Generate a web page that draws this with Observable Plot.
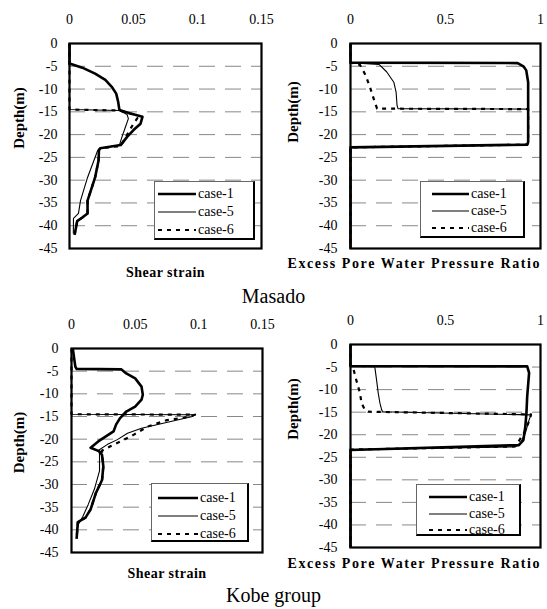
<!DOCTYPE html>
<html><head><meta charset="utf-8">
<script src="https://cdn.jsdelivr.net/npm/d3@7"></script>
<script src="https://cdn.jsdelivr.net/npm/@observablehq/plot@0.6"></script>
<style>
body{margin:0;background:#fff;}
#root{position:relative;width:547px;height:609px;overflow:hidden;font-family:"Liberation Serif",serif;color:#000;}
.panel{position:absolute;}
.title{position:absolute;font-size:20px;width:547px;text-align:center;left:0;}
.legend{position:absolute;background:#fff;border-left:1px solid #666;border-top:1px solid #666;border-right:2px solid #000;border-bottom:2px solid #000;box-sizing:border-box;}
.legend svg{position:absolute;left:0;top:0;overflow:visible;}
</style></head>
<body><div id="root"></div>
<script>
// ---- data: [depth (m), value] ----
const depthTicks = [0,-5,-10,-15,-20,-25,-30,-35,-40,-45];
const gridDepths = [-5,-10,-15,-20,-25,-30,-35,-40];
const strainTicks = [0,0.05,0.1,0.15];
const epwpTicks = [0,0.5,1];
const caseNames = ["case-1","case-5","case-6"];
const panelTitles = ["Masado","Kobe group"];
const xLabels = ["Shear strain","Excess Pore Water Pressure Ratio"];

const masadoStrainCase1 = [[0,0],[-4.4,0],[-5.3,0.010],[-6.6,0.020],[-8.0,0.028],[-9.5,0.033],[-11,0.0365],[-12.8,0.038],[-14.6,0.039],[-15.3,0.047],[-16.1,0.057],[-17.6,0.0555],[-19,0.050],[-20.5,0.045],[-22.3,0.040],[-23.0,0.024],[-23.4,0.023],[-25.7,0.0227],[-29.4,0.020],[-34.5,0.0141],[-37.3,0.0141],[-38.2,0.010],[-39,0.006],[-42,0.004]];
const masadoStrainCase5 = [[0,0],[-14.5,0],[-14.7,0.039],[-15.6,0.045],[-16.5,0.046],[-18.5,0.0435],[-20.5,0.041],[-22.3,0.039],[-23.0,0.024],[-23.5,0.022],[-29.4,0.0141],[-34.5,0.0086],[-37.3,0.007],[-38.4,0.0031],[-41.7,0.003]];
const masadoStrainCase6 = [[0,0],[-14.5,0],[-14.7,0.039],[-15.5,0.049],[-16.4,0.053],[-17.6,0.050],[-19.5,0.046],[-21.5,0.042],[-22.5,0.040],[-23.0,0.024],[-23.4,0.023],[-25.7,0.0227],[-29.4,0.020],[-34.5,0.0141],[-37.3,0.0141],[-38.2,0.010],[-39,0.006],[-42,0.004]];

const masadoEpwpCase1 = [[0,0],[-4.2,0],[-4.3,0.88],[-5.0,0.91],[-5.9,0.925],[-8.5,0.935],[-14.3,0.935],[-21.7,0.935],[-22.2,0.93],[-22.8,0],[-45,0]];
const masadoEpwpCase5 = [[0,0],[-4.2,0],[-4.6,0.15],[-6.2,0.19],[-8.5,0.228],[-10.7,0.24],[-13.6,0.245],[-14.3,0.25],[-14.4,0.935],[-21.7,0.935],[-22.2,0.93],[-22.8,0],[-45,0]];
const masadoEpwpCase6 = [[0,0],[-4.2,0],[-4.7,0.05],[-7,0.08],[-9.9,0.105],[-12.9,0.128],[-14.3,0.14],[-14.4,0.935],[-21.7,0.935],[-22.2,0.93],[-22.8,0],[-45,0]];

const kobeStrainCase1 = [[0,0.001],[-4,0.003],[-4.5,0.004],[-4.6,0.039],[-5.5,0.043],[-6.6,0.050],[-8.4,0.055],[-10.2,0.056],[-11.3,0.055],[-12.8,0.050],[-13.9,0.043],[-15.4,0.038],[-16.8,0.035],[-18.3,0.033],[-19.4,0.027],[-20.5,0.021],[-21.9,0.015],[-22.7,0.022],[-23.5,0.024],[-26,0.025],[-29,0.024],[-32,0.019],[-35.5,0.015],[-37.3,0.011],[-38.3,0.005],[-42,0.004]];
const kobeStrainCase5 = [[0,0],[-14.5,0],[-14.6,0.097],[-15.0,0.095],[-16.5,0.072],[-17.6,0.055],[-18.7,0.044],[-20.1,0.036],[-21.2,0.028],[-22.5,0.021],[-23.2,0.022],[-27,0.022],[-31,0.018],[-34.5,0.013],[-37,0.009],[-39,0.005],[-41.5,0.004]];
const kobeStrainCase6 = [[0,0],[-14.5,0],[-14.6,0.097],[-15.3,0.088],[-15.8,0.075],[-17.2,0.060],[-19,0.049],[-20.3,0.040],[-21.5,0.031],[-22.5,0.024],[-23.5,0.024],[-26,0.025],[-29,0.024],[-32,0.019],[-35.5,0.015],[-37.3,0.011],[-38.3,0.005],[-42,0.004]];

const kobeEpwpCase1 = [[0,0],[-4.8,0],[-4.85,0.93],[-6.3,0.94],[-11.5,0.93],[-15.2,0.926],[-18.2,0.92],[-21.2,0.91],[-22.3,0.886],[-23.4,0],[-45,0]];
const kobeEpwpCase5 = [[0,0],[-4.8,0],[-5.0,0.128],[-7.8,0.137],[-10.8,0.146],[-13,0.155],[-14.5,0.164],[-14.9,0.17],[-15.6,0.95],[-16.7,0.94],[-19.7,0.92],[-21.9,0.894],[-22.7,0.868],[-23.3,0],[-45,0]];
const kobeEpwpCase6 = [[0,0],[-4.8,0],[-5.2,0.014],[-7.8,0.03],[-10.8,0.05],[-13,0.058],[-14.5,0.076],[-14.9,0.093],[-15.5,0.95],[-16.5,0.945],[-19.5,0.915],[-21.8,0.88],[-22.6,0.86],[-23.3,0],[-45,0]];

// ---- styles ----
const caseStyles = [
  {strokeWidth: 2.6},
  {strokeWidth: 1.1},
  {strokeWidth: 2.2, strokeDasharray: "4,5"}
];
const FONT = '"Liberation Serif", "Times New Roman", serif';
const root = document.getElementById("root");

function makePanel(cfg) {
  const [c1, c5, c6] = cfg.series;
  const acc = {x: d => d[1], y: d => d[0], stroke: "#000", strokeLinejoin: "round", strokeLinecap: "butt"};
  const p = Plot.plot({
    width: cfg.w, height: cfg.h,
    marginLeft: cfg.ml, marginRight: cfg.mr, marginTop: cfg.mt, marginBottom: cfg.mb,
    style: {fontFamily: FONT, fontSize: "14px", color: "#000", background: "transparent", overflow: "visible"},
    x: {domain: cfg.xDomain, ticks: cfg.xTicks, tickFormat: d => String(d), axis: "top", label: null, tickSize: 0, tickPadding: cfg.xPad},
    y: {domain: [-45, 0], ticks: depthTicks, tickFormat: d => String(d), label: null, tickSize: 0, tickPadding: cfg.yPad},
    marks: [
      Plot.ruleY(gridDepths, {stroke: "#888", strokeWidth: 1, strokeDasharray: "16,10"}),
      Plot.line(c5, {...acc, ...caseStyles[1]}),
      Plot.line(c6, {...acc, ...caseStyles[2]}),
      Plot.line(c1, {...acc, ...caseStyles[0]}),
      Plot.frame({stroke: "#000", strokeWidth: 2.2}),
      Plot.text([cfg.xLabel], {frameAnchor: "bottom", dy: cfg.xLabelDy, fontWeight: "bold", fontSize: 14, fill: "#000", textAnchor: cfg.xLabelAnchor || "middle", dx: cfg.xLabelDx || 0}),
      Plot.text(["Depth(m)"], {frameAnchor: "left", textAnchor: "middle", rotate: -90, dx: cfg.yLabelDx, dy: cfg.yLabelDy, fontWeight: "bold", fontSize: 15, fill: "#000"})
    ]
  });
  d3.select(p).selectAll("text").filter(function() { return this.textContent === cfg.xLabel; })
    .style("letter-spacing", cfg.xLabelSpacing + "px");
  p.classList.add("panel");
  p.style.left = cfg.left + "px";
  p.style.top = cfg.top + "px";
  root.appendChild(p);

  // legend (HTML overlay)
  const L = cfg.legend;
  const div = document.createElement("div");
  div.className = "legend";
  Object.assign(div.style, {left: L.left + "px", top: L.top + "px", width: L.w + "px", height: L.h + "px"});
  const svg = d3.create("svg").attr("width", L.w).attr("height", L.h);
  caseNames.forEach((name, i) => {
    const y = L.rows[i];
    const ln = svg.append("line").attr("x1", L.x1).attr("x2", L.x2).attr("y1", y).attr("y2", y)
      .attr("stroke", "#000").attr("stroke-width", caseStyles[i].strokeWidth);
    if (caseStyles[i].strokeDasharray) ln.attr("stroke-dasharray", caseStyles[i].strokeDasharray);
    svg.append("text").attr("x", L.x2 + 2).attr("y", y).attr("dy", "0.32em")
      .attr("font-family", FONT).attr("font-size", 14).text(name);
  });
  div.appendChild(svg.node());
  root.appendChild(div);
}

makePanel({
  left: 0, top: 0, w: 272, h: 300, ml: 69, mr: 11, mt: 43, mb: 52,
  xDomain: [0, 0.15], xTicks: strainTicks, xPad: 20, yPad: 12,
  xLabel: xLabels[0], xLabelDy: 28, xLabelSpacing: 0.5, yLabelDx: -50, yLabelDy: -28,
  series: [masadoStrainCase1, masadoStrainCase5, masadoStrainCase6],
  legend: {left: 154, top: 181, w: 101, h: 59, x1: 3, x2: 41, rows: [12, 30, 48]}
});
makePanel({
  left: 272, top: 0, w: 275, h: 300, ml: 78, mr: 7, mt: 43, mb: 52,
  xDomain: [0, 1], xTicks: epwpTicks, xPad: 20, yPad: 13,
  xLabel: xLabels[1], xLabelDy: 19, xLabelAnchor: "start", xLabelDx: -158, xLabelSpacing: 1.6, yLabelDx: -57, yLabelDy: -34,
  series: [masadoEpwpCase1, masadoEpwpCase5, masadoEpwpCase6],
  legend: {left: 420, top: 181, w: 105, h: 57, x1: 11, x2: 48, rows: [12, 29, 46]}
});
makePanel({
  left: 0, top: 300, w: 272, h: 309, ml: 71, mr: 10, mt: 48, mb: 57,
  xDomain: [0, 0.15], xTicks: strainTicks, xPad: 20, yPad: 13,
  xLabel: xLabels[0], xLabelDy: 25, xLabelSpacing: 0.5, yLabelDx: -52, yLabelDy: -8,
  series: [kobeStrainCase1, kobeStrainCase5, kobeStrainCase6],
  legend: {left: 151, top: 483, w: 98, h: 59, x1: 6, x2: 46, rows: [14, 32, 50]}
});
makePanel({
  left: 272, top: 300, w: 275, h: 309, ml: 78, mr: 7, mt: 44, mb: 62,
  xDomain: [0, 1], xTicks: epwpTicks, xPad: 20, yPad: 13,
  xLabel: xLabels[1], xLabelDy: 20, xLabelAnchor: "start", xLabelDx: -158, xLabelSpacing: 1.6, yLabelDx: -57, yLabelDy: -37,
  series: [kobeEpwpCase1, kobeEpwpCase5, kobeEpwpCase6],
  legend: {left: 416, top: 484, w: 105, h: 52, x1: 12, x2: 50, rows: [12, 29, 45]}
});

// panel group titles
const t1 = document.createElement("div"); t1.className = "title"; t1.style.top = "285px"; t1.textContent = panelTitles[0]; root.appendChild(t1);
const t2 = document.createElement("div"); t2.className = "title"; t2.style.top = "584px"; t2.textContent = panelTitles[1]; root.appendChild(t2);
</script>
</body></html>
